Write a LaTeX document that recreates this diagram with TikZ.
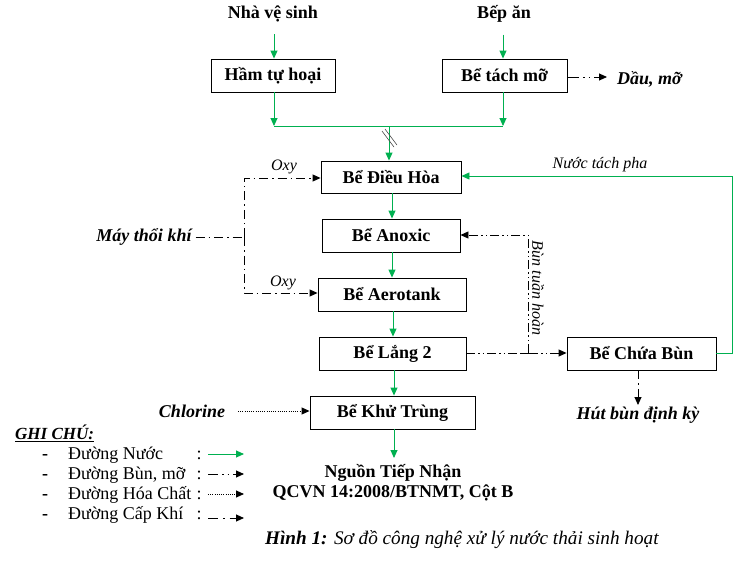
\documentclass[tikz,border=0pt]{standalone}
\usepackage{fontspec}
\setmainfont{Liberation Serif}
\usetikzlibrary{arrows.meta}
\definecolor{wgreen}{RGB}{0,176,80}
\begin{document}
\begin{tikzpicture}[x=1pt,y=-1pt,
  box/.style={draw,line width=0.9pt,minimum height=33pt,inner sep=0pt,font=\fontsize{18}{20}\selectfont\bfseries},
  lbl/.style={inner sep=0pt,font=\fontsize{18}{20}\selectfont\bfseries},
  bital/.style={inner sep=0pt,font=\fontsize{18}{20}\selectfont\bfseries\itshape},
  ital/.style={inner sep=0pt,font=\fontsize{16}{18}\selectfont\itshape},
  leg/.style={inner sep=0pt,anchor=base west,font=\fontsize{18}{20}\selectfont},
  tip/.style={-{Triangle[length=8pt,width=7pt]}},
  water/.style={draw=wgreen,line width=0.9pt},
  sludge/.style={line width=0.9pt,dash pattern=on 9pt off 3pt on 1.5pt off 3pt on 1.5pt off 3pt},
  air/.style={line width=0.9pt,dash pattern=on 9pt off 4pt on 1.5pt off 4pt},
  chem/.style={line width=0.9pt,dash pattern=on 1pt off 1.2pt},
]
\useasboundingbox (0,0) rectangle (748,566);

% boxes
\node[box,minimum width=124pt] (ham) at (273,75.5) {Hầm tự hoại};
\node[box,minimum width=125pt] (tach) at (504.5,75.5) {Bể tách mỡ};
\node[box,minimum width=140pt,minimum height=32pt] (dh) at (391,177) {Bể Điều Hòa};
\node[box,minimum width=138pt] (ano) at (391,235.5) {Bể Anoxic};
\node[box,minimum width=148pt] (aero) at (392,294.5) {Bể Aerotank};
\node[box,minimum width=147pt] (lang) at (392.5,353.5) {Bể Lắng 2};
\node[box,minimum width=165pt] (khu) at (392.5,412.5) {Bể Khử Trùng};
\node[box,minimum width=149pt] (cb) at (641.5,353.5) {Bể Chứa Bùn};

% texts
\node[lbl] (nvs) at (273,14) {Nhà vệ sinh};
\node[lbl] (bep) at (504,14) {Bếp ăn};
\node[bital,anchor=west] (dau) at (617,79) {Dầu, mỡ};
\node[lbl] (nguon) at (393,473) {Nguồn Tiếp Nhận};
\node[lbl] (qcvn) at (393,493) {QCVN 14:2008/BTNMT, Cột B};
\node[inner sep=0pt,anchor=west,font=\fontsize{19.2}{21}\selectfont] (cap) at (265,540) {\textbf{\textit{Hình 1:}} \textit{Sơ đồ công nghệ xử lý nước thải sinh hoạt}};
\node[bital] (chl) at (192,411) {Chlorine};
\node[bital] (may) at (144,237) {Máy thổi khí};
\node[bital] (hut) at (638,415) {Hút bùn định kỳ};
\node[ital] (oxy1) at (284,167) {Oxy};
\node[ital] (oxy2) at (283,283) {Oxy};
\node[ital] (ntp) at (600,165) {Nước tách pha};
\node[ital,rotate=-90] (btp) at (538,288) {Bùn tuần hoàn};

% water flow
\coordinate (j) at (389,126);
\coordinate (jl) at (274,126);
\coordinate (jr) at (503,126);
\draw[water,tip] (nvs.south -| jl) ++(0,12) -- (ham.north -| jl);
\draw[water,tip] (bep.south -| jr) ++(0,12) -- (tach.north -| jr);
\draw[water,tip] (ham.south -| jl) -- (jl);
\draw[water,tip] (tach.south -| jr) -- (jr);
\draw[water] (jl) -- (jr);
\draw[water,tip] (j) -- (dh.north -| j);
\draw[line width=0.6pt,black!70] (382,131) -- (394,147) (385,129) -- (397,145);
\draw[water,tip] (dh.south -| 392,0) -- (ano.north -| 392,0);
\draw[water,tip] (ano.south -| 392,0) -- (aero.north -| 392,0);
\draw[water,tip] (aero.south -| 393,0) -- (lang.north -| 393,0);
\draw[water,tip] (lang.south -| 394,0) -- (khu.north -| 394,0);
\draw[water,tip] (khu.south -| 394,0) -- (394,458);
\coordinate (rt) at (732,176);
\draw[water,tip] (cb.east) -| (rt) -- (dh.east |- rt);

% oil
\draw[line width=0.9pt,dash pattern=on 12pt off 4pt on 1.5pt off 4pt on 1.5pt off 4pt,tip] (tach.east |- 0,77) -- (607,77);

% air
\coordinate (ab) at (244,237);
\coordinate (at) at (244,178);
\coordinate (aa) at (244,293);
\draw[air] (may.east) ++(4,0) -- (ab);
\draw[air,tip] (ab) -- (at) -- (dh.west |- at);
\draw[air,tip] (ab) -- (aa) -- (aero.west |- aa);

% sludge
\coordinate (sj) at (528,353);
\coordinate (st) at (528,235);
\draw[sludge,tip] (lang.east |- sj) -- (cb.west |- sj);
\draw[sludge,tip] (sj) -- (st) -- (ano.east |- st);
\draw[line width=0.6pt] (522,353) -- (534,353);
\draw[line width=0.9pt,dash pattern=on 9pt off 4pt on 1.5pt off 4pt,tip] (cb.south -| 638,0) -- (638,405);

% chemical
\draw[chem,tip] (238,411) -- (khu.west |- 0,411);

% legend
\node[inner sep=0pt,anchor=west,font=\fontsize{17}{19}\selectfont\bfseries\itshape] (gc) at (15,433) {\underline{GHI CHÚ:}};
\foreach \i/\t/\yy in {1/Đường Nước/459,2/{Đường Bùn, mỡ}/479,3/Đường Hóa Chất/499,4/Đường Cấp Khí/519}{
  \node[leg,font=\fontsize{18}{20}\selectfont\bfseries] (d\i) at (42,\yy) {-};
  \node[leg] (t\i) at (68,\yy) {\t};
  \node[leg,anchor=base] (c\i) at (199,\yy) {:};
}
\coordinate (l1a) at (208,454); \coordinate (l1b) at (244,454);
\coordinate (l2a) at (208,474); \coordinate (l2b) at (244,474);
\coordinate (l3a) at (208,494); \coordinate (l3b) at (244,494);
\coordinate (l4a) at (208,518); \coordinate (l4b) at (244,518);
\draw[water,tip] (l1a) -- (l1b);
\draw[line width=0.9pt,dash pattern=on 10pt off 4pt on 1.5pt off 4pt on 1.5pt off 4pt,tip] (l2a) -- (l2b);
\draw[chem,tip] (l3a) -- (l3b);
\draw[line width=0.9pt,dash pattern=on 10pt off 5pt on 1.5pt off 5pt,tip] (l4a) -- (l4b);
\end{tikzpicture}
\end{document}
